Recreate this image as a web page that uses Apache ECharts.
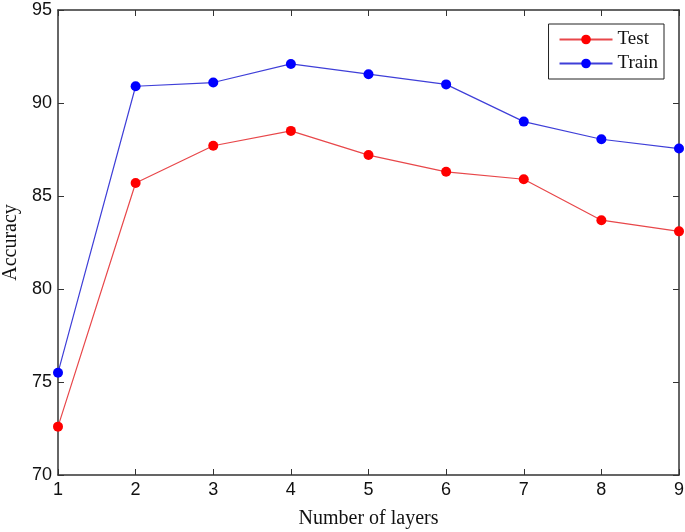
<!DOCTYPE html>
<html><head><meta charset="utf-8">
<script src="https://cdn.jsdelivr.net/npm/echarts@6/dist/echarts.min.js"></script>
<style>html,body{margin:0;padding:0;background:#fff}#c{width:685px;height:532px}</style>
</head><body><div id="c"></div>
<script>
const layers = [1,2,3,4,5,6,7,8,9];
const testAcc = [72.6, 85.7, 87.7, 88.5, 87.2, 86.3, 85.9, 83.7, 83.1];
const trainAcc = [75.5, 90.9, 91.1, 92.1, 91.55, 91.0, 89.0, 88.05, 87.55];
const xTitle = 'Number of layers';
const yTitle = 'Accuracy';

const chart = echarts.init(document.getElementById('c'));
const axisLine = {show:true, lineStyle:{color:'#333', width:1.5}};
const tick = {show:true, inside:true, length:6, lineStyle:{color:'#333'}};
chart.setOption({
  animation:false,
  grid:{left:58, right:6, top:10, bottom:57, containLabel:false, outerBoundsMode:'none'},
  legend:{
    orient:'vertical', right:21, top:24,
    borderColor:'#222', borderWidth:1, padding:[6,6,6,10],
    itemWidth:53, itemHeight:12, itemGap:5,
    textStyle:{fontFamily:'Liberation Serif', fontSize:19, color:'#111'},
    data:['Test','Train']
  },
  xAxis:[{
    type:'value', min:1, max:9, interval:1,
    name:xTitle, nameLocation:'middle', nameGap:34,
    nameTextStyle:{fontFamily:'Liberation Serif', fontSize:20, color:'#111'},
    axisLine, axisTick:tick, splitLine:{show:false},
    axisLabel:{fontFamily:'Liberation Sans', fontSize:18, color:'#111', margin:6}
  },{
    type:'value', min:1, max:9, interval:1, position:'top',
    axisLine, axisTick:tick, splitLine:{show:false}, axisLabel:{show:false}
  }],
  yAxis:[{
    type:'value', min:70, max:95, interval:5,
    name:yTitle, nameLocation:'middle', nameGap:37,
    nameTextStyle:{fontFamily:'Liberation Serif', fontSize:20, color:'#111'},
    axisLine, axisTick:tick, splitLine:{show:false},
    axisLabel:{fontFamily:'Liberation Sans', fontSize:18, color:'#111', margin:6}
  },{
    type:'value', min:70, max:95, interval:5, position:'right',
    axisLine, axisTick:tick, splitLine:{show:false}, axisLabel:{show:false}
  }],
  series:[{
    name:'Test', type:'line', data:layers.map((x,i)=>[x,testAcc[i]]),
    symbol:'circle', symbolSize:10,
    itemStyle:{color:'#ff0000'}, lineStyle:{color:'#e8474a', width:1.2}
  },{
    name:'Train', type:'line', data:layers.map((x,i)=>[x,trainAcc[i]]),
    symbol:'circle', symbolSize:10,
    itemStyle:{color:'#0000ff'}, lineStyle:{color:'#3f3fd8', width:1.2}
  }]
});
</script></body></html>
